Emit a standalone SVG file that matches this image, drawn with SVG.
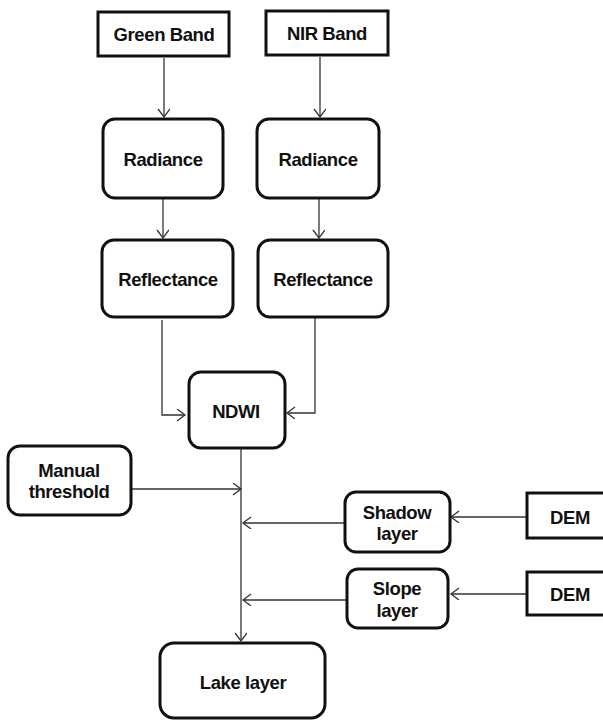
<svg xmlns="http://www.w3.org/2000/svg" width="603" height="720" viewBox="0 0 603 720">
<style>
.box{fill:#fff;stroke:#111;stroke-width:3}
.ln{fill:none;stroke:#333;stroke-width:1.3}
.t{font-family:"Liberation Sans",Arial,sans-serif;font-weight:bold;font-size:18.5px;letter-spacing:-0.4px;fill:#111;text-anchor:middle;dominant-baseline:central}
</style>
<defs>
<marker id="ah" markerUnits="userSpaceOnUse" markerWidth="12" markerHeight="14" refX="9" refY="6" orient="auto">
<path d="M1,0 L9,6 L1,12" fill="none" stroke="#333" stroke-width="1.3"/>
</marker>
</defs>
<rect width="603" height="720" fill="#fff"/>
<g id="connectors">
<line class="ln" x1="164" y1="58" x2="164" y2="117" marker-end="url(#ah)"/>
<line class="ln" x1="320" y1="57" x2="320" y2="117" marker-end="url(#ah)"/>
<line class="ln" x1="163" y1="199" x2="163" y2="238" marker-end="url(#ah)"/>
<line class="ln" x1="319" y1="199" x2="319" y2="238" marker-end="url(#ah)"/>
<polyline class="ln" points="162,320 162,415 185,415" marker-end="url(#ah)"/>
<polyline class="ln" points="315,318 315,413 287,413" marker-end="url(#ah)"/>
<line class="ln" x1="241" y1="449" x2="241" y2="641" marker-end="url(#ah)"/>
<line class="ln" x1="132" y1="489" x2="241" y2="489" marker-end="url(#ah)"/>
<line class="ln" x1="345" y1="523" x2="243" y2="523" marker-end="url(#ah)"/>
<line class="ln" x1="347" y1="600" x2="243" y2="600" marker-end="url(#ah)"/>
<line class="ln" x1="527" y1="517" x2="451" y2="517" marker-end="url(#ah)"/>
<line class="ln" x1="527" y1="594" x2="451" y2="594" marker-end="url(#ah)"/>
</g>
<g id="green-band">
<rect class="box" x="98" y="12" width="131" height="44"/>
<text class="t" x="164" y="34">Green Band</text>
</g>
<g id="nir-band">
<rect class="box" x="266" y="11" width="122" height="44"/>
<text class="t" x="327" y="33">NIR Band</text>
</g>
<g id="radiance-green">
<rect class="box" x="103" y="119" width="120" height="79" rx="12"/>
<text class="t" x="163" y="159">Radiance</text>
</g>
<g id="radiance-nir">
<rect class="box" x="257" y="119" width="122" height="79" rx="12"/>
<text class="t" x="318" y="159">Radiance</text>
</g>
<g id="reflectance-green">
<rect class="box" x="102" y="240" width="131" height="77" rx="12"/>
<text class="t" x="168" y="279">Reflectance</text>
</g>
<g id="reflectance-nir">
<rect class="box" x="258" y="240" width="130" height="77" rx="12"/>
<text class="t" x="323" y="279">Reflectance</text>
</g>
<g id="ndwi">
<rect class="box" x="189" y="372" width="96" height="76" rx="12"/>
<text class="t" x="236" y="411">NDWI</text>
</g>
<g id="manual-threshold">
<rect class="box" x="8" y="446" width="123" height="69" rx="12"/>
<text class="t" x="69" y="470">Manual</text>
<text class="t" x="69" y="491">threshold</text>
</g>
<g id="shadow-layer">
<rect class="box" x="345" y="492" width="105" height="60" rx="11"/>
<text class="t" x="397" y="512">Shadow</text>
<text class="t" x="397" y="533">layer</text>
</g>
<g id="slope-layer">
<rect class="box" x="347" y="569" width="101" height="59" rx="11"/>
<text class="t" x="397" y="588">Slope</text>
<text class="t" x="397" y="610">layer</text>
</g>
<g id="dem-1">
<rect class="box" x="527" y="493" width="90" height="45"/>
<text class="t" x="570" y="517">DEM</text>
</g>
<g id="dem-2">
<rect class="box" x="527" y="572" width="90" height="43"/>
<text class="t" x="570" y="594">DEM</text>
</g>
<g id="lake-layer">
<rect class="box" x="160" y="643" width="165" height="75" rx="14"/>
<text class="t" x="243" y="682">Lake layer</text>
</g>
</svg>
